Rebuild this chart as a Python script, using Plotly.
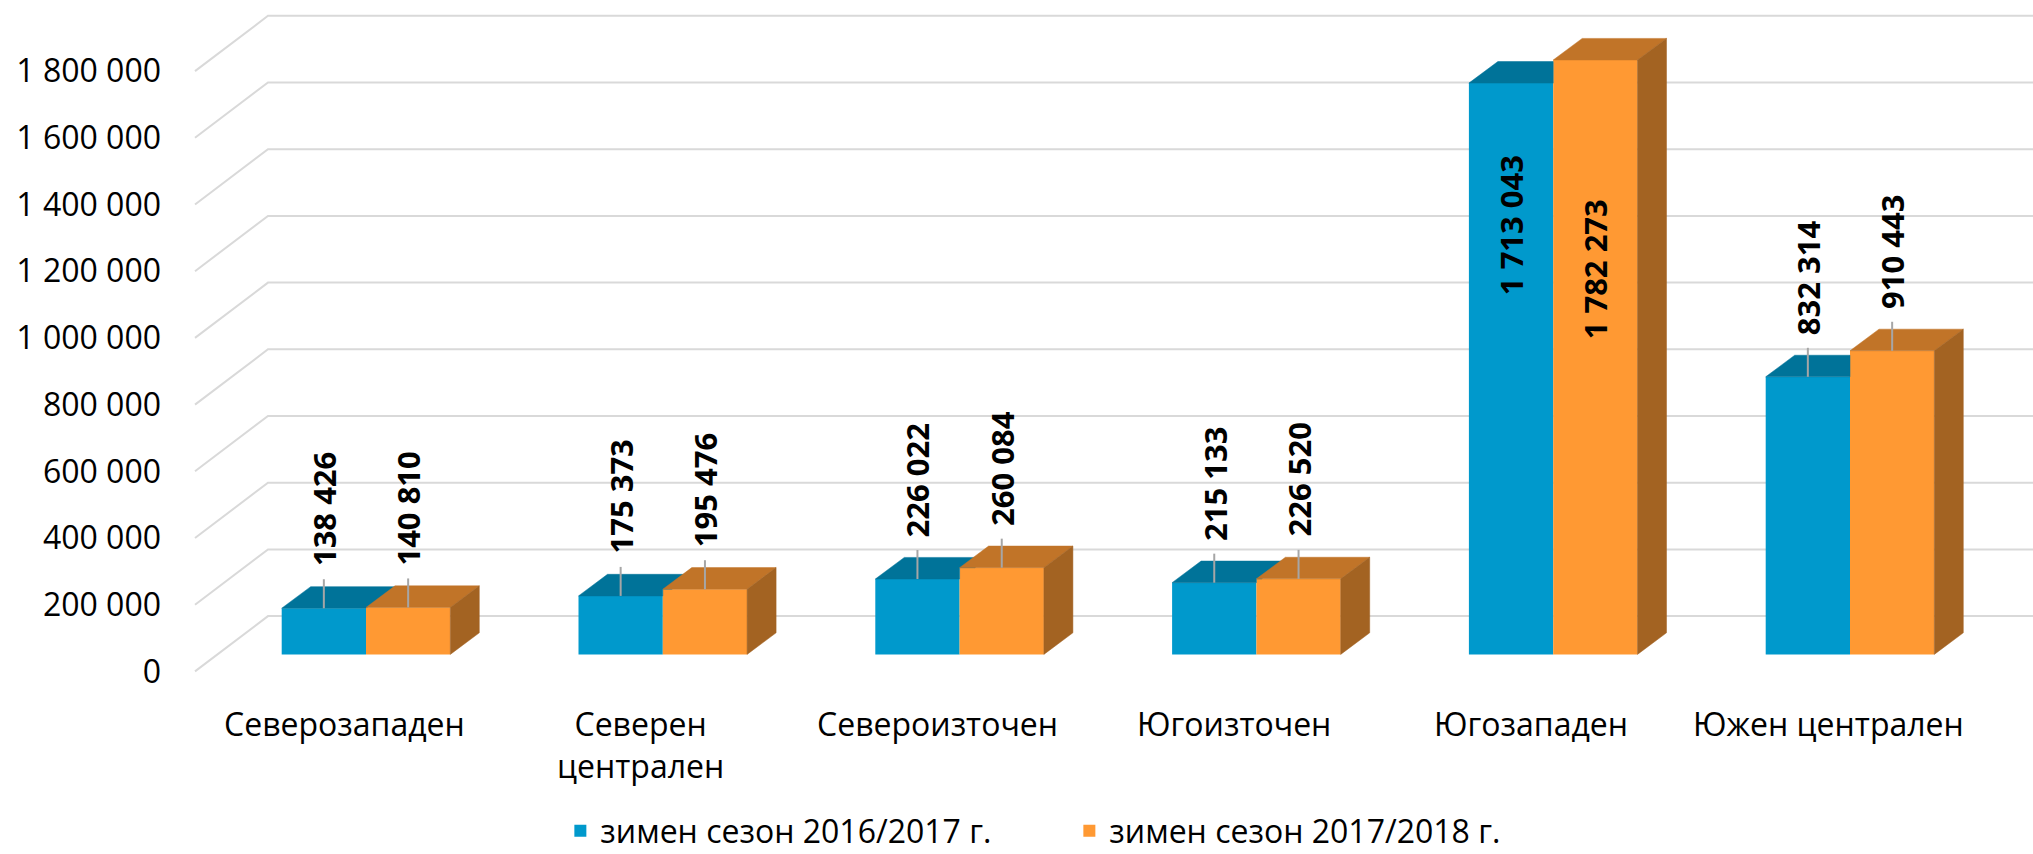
import plotly.graph_objects as go

# --- data ---------------------------------------------------------------
regions = ["Северозападен", "Северен централен", "Североизточен",
           "Югоизточен", "Югозападен", "Южен централен"]
season_2016_17 = [138426, 175373, 226022, 215133, 1713043, 832314]
season_2017_18 = [140810, 195476, 260084, 226520, 1782273, 910443]
series_names = ["зимен сезон 2016/2017 г.", "зимен сезон 2017/2018 г."]
y_ticks = list(range(0, 1_800_001, 200_000))

# --- geometry (pixels of the 2033x854 canvas) ----------------------------
W, H = 2033, 854
PX_PER_STEP = 66.7          # pixels per 200 000
U = 200_000 / PX_PER_STEP   # value units per pixel
ZERO_PX = 654.4             # row of the bar front bottom
GROUP_PX = 296.8
FIRST_CENTER_PX = 366
LEFT_PX = 175
BAR_PX = 84.3
DEPTH_DX, DEPTH_DY = 29, 21.6
GRID_FRONT_X, GRID_BACK_X = 195, 268
LABEL_DROP, BACK_RISE = 17, 38.3

x_range = [(LEFT_PX - FIRST_CENTER_PX) / GROUP_PX, (W - FIRST_CENTER_PX) / GROUP_PX]
y_range = [-(H - ZERO_PX) * U, ZERO_PX * U]
bw = BAR_PX / GROUP_PX
ddx = DEPTH_DX / GROUP_PX
ddy = DEPTH_DY * U

front = ["#0099CC", "#FF9933"]
top = ["#007399", "#C17428"]
side = "#A36322"

FONT = "Open Sans"


def fmt(v):
    return f"{v:,}".replace(",", " ")


def poly(points, xs, ys):
    for px, py in points + [points[0]]:
        xs.append(px)
        ys.append(py)
    xs.append(None)
    ys.append(None)


fig = go.Figure()
pos = list(range(len(regions)))
series = [season_2016_17, season_2017_18]

# front faces
for k, vals in enumerate(series):
    fig.add_trace(go.Bar(
        x=pos, y=vals, width=bw, offset=-bw if k == 0 else 0,
        marker=dict(color=front[k], line=dict(width=0)),
        name=series_names[k], hoverinfo="skip",
    ))

# top faces of the first series (clipped where the second bar hides it)
xs, ys = [], []
for i, (vb, vo) in enumerate(zip(season_2016_17, season_2017_18)):
    x0, x1 = i - bw, i
    if vo >= vb + ddy:
        pts = [(x0, vb), (x1, vb), (x1, vb + ddy), (x0 + ddx, vb + ddy)]
    else:
        cut = x1 + (vo - vb) / ddy * ddx
        pts = [(x0, vb), (x1, vb), (x1, vo), (cut, vo),
               (x1 + ddx, vb + ddy), (x0 + ddx, vb + ddy)]
    poly(pts, xs, ys)
fig.add_trace(go.Scatter(x=xs, y=ys, fill="toself", fillcolor=top[0], mode="lines",
                         line=dict(width=0.5, color=top[0]), showlegend=False, hoverinfo="skip"))

# top and side faces of the second series
xs, ys, sx, sy = [], [], [], []
for i, v in enumerate(season_2017_18):
    x0, x1 = i, i + bw
    poly([(x0, v), (x1, v), (x1 + ddx, v + ddy), (x0 + ddx, v + ddy)], xs, ys)
    poly([(x1, 0), (x1, v), (x1 + ddx, v + ddy), (x1 + ddx, ddy)], sx, sy)
fig.add_trace(go.Scatter(x=xs, y=ys, fill="toself", fillcolor=top[1], mode="lines",
                         line=dict(width=0.5, color=top[1]), showlegend=False, hoverinfo="skip"))
fig.add_trace(go.Scatter(x=sx, y=sy, fill="toself", fillcolor=side, mode="lines",
                         line=dict(width=0.5, color=side), showlegend=False, hoverinfo="skip"))

# back wall grid
gx0 = (GRID_FRONT_X - FIRST_CENTER_PX) / GROUP_PX
gx1 = (GRID_BACK_X - FIRST_CENTER_PX) / GROUP_PX
for t in y_ticks:
    fig.add_shape(type="path", xref="x", yref="y", layer="below",
                  path=f"M {gx0},{t - LABEL_DROP * U} L {gx1},{t + BACK_RISE * U} L {x_range[1]},{t + BACK_RISE * U}",
                  line=dict(color="#D9D9D9", width=2))

# data labels and leader lines
INSIDE_LIMIT = 1_500_000
INSIDE_DROP = [142, 209]
LABEL_GAP, LEADER = 40, 29
lx, ly = [], []
for k, vals in enumerate(series):
    for i, v in enumerate(vals):
        xc = i - bw / 2 if k == 0 else i + bw / 2
        if v > INSIDE_LIMIT:
            fig.add_annotation(x=xc, y=v, yshift=-INSIDE_DROP[k], text=fmt(v), textangle=-90,
                               showarrow=False, xanchor="center", yanchor="middle",
                               font=dict(family=FONT, size=31, color="#000", weight="bold"))
        else:
            fig.add_annotation(x=xc, y=v, yshift=LABEL_GAP, text=fmt(v), textangle=-90,
                               showarrow=False, xanchor="center", yanchor="bottom",
                               font=dict(family=FONT, size=31, color="#000", weight="bold"))
            lx += [xc, xc, None]
            ly += [v, v + LEADER * U, None]
fig.add_trace(go.Scatter(x=lx, y=ly, mode="lines", line=dict(color="#A6A6A6", width=2),
                         showlegend=False, hoverinfo="skip"))

# category labels
for i, name in enumerate(regions):
    text = name.replace(" ", "<br>") if len(name) > 15 else name
    fig.add_annotation(x=i, xshift=-22, y=(H - 700) / H, yref="paper", text=text,
                       showarrow=False, xanchor="center", yanchor="top", align="center",
                       font=dict(family=FONT, size=32, color="#000"))

fig.update_layout(
    width=W, height=H,
    margin=dict(l=0, r=0, t=0, b=0, autoexpand=False),
    paper_bgcolor="white", plot_bgcolor="white",
    barmode="overlay",
    showlegend=True,
    legend=dict(orientation="h", x=0.526, xanchor="center", y=0.027, yanchor="middle",
                entrywidth=464, font=dict(family=FONT, size=32, color="#000")),
    xaxis=dict(domain=[LEFT_PX / W, 1], range=x_range, visible=False),
    yaxis=dict(range=y_range, tickvals=[t - LABEL_DROP * U for t in y_ticks],
               ticktext=[fmt(t) for t in y_ticks], showgrid=False, zeroline=False,
               showline=False, ticks="", ticklabelstandoff=13,
               tickfont=dict(family=FONT, size=32, color="#000")),
)

fig.write_html("out.html", config={"displayModeBar": False},
               post_script="document.body.style.margin = '0';")
